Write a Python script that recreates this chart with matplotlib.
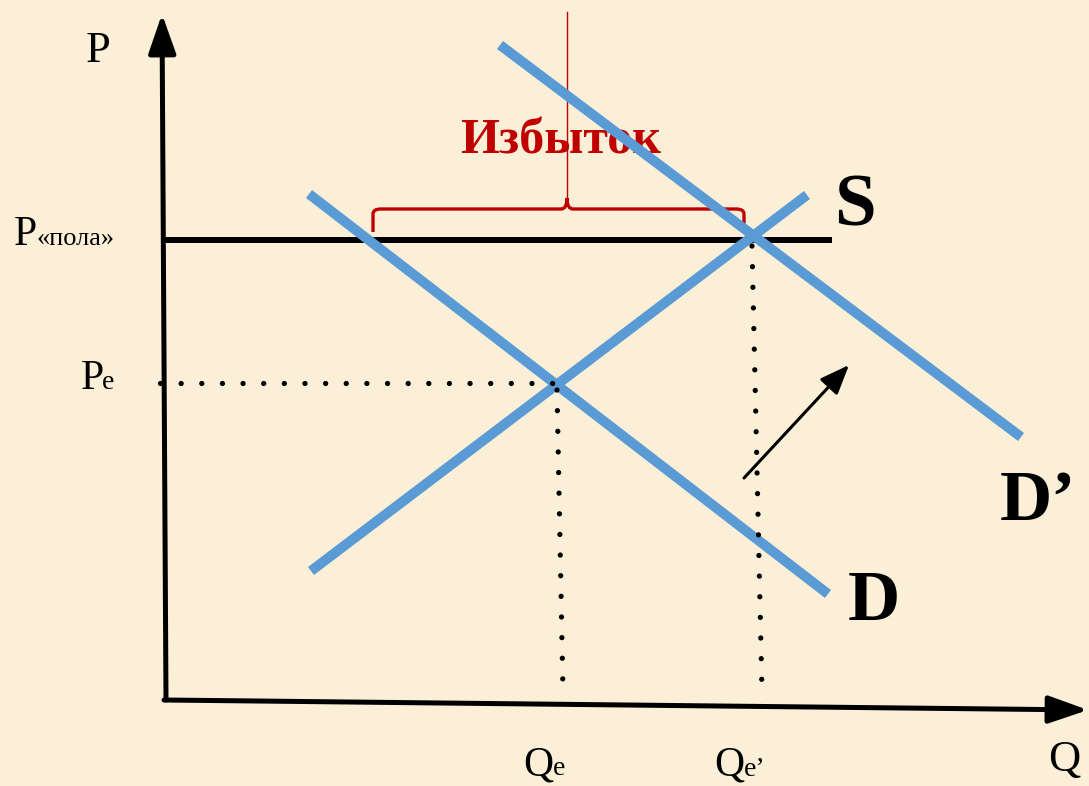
import matplotlib.pyplot as plt
from matplotlib.path import Path
from matplotlib.patches import PathPatch

# diagram coordinates (picture units, y grows downward)
supply_x = [311, 807]
supply_y = [571, 195]
demand_x = [309, 828]
demand_y = [194, 594]
demand2_x = [500, 1021]
demand2_y = [45, 437]
floor_x = [162, 832]
floor_y = [240, 240]
pe_x = [160, 556]
pe_y = [383, 383]
qe_x = [557, 563]
qe_y = [390, 693]
qe2_x = [752, 762]
qe2_y = [246, 693]
shift_tail = (744, 478)
shift_head = (849, 365)
bracket_left, bracket_mid, bracket_right = 373, 567, 744

bg = '#FBF0D7'
blue = '#5B9BD5'
red = '#C00000'
serif = ['Liberation Serif', 'DejaVu Serif']

fig = plt.figure(figsize=(10.89, 7.86), dpi=100)
fig.patch.set_facecolor(bg)
ax = fig.add_axes([0, 0, 1, 1])
ax.set_facecolor(bg)
ax.set_xlim(0, 1089)
ax.set_ylim(786, 0)
ax.axis('off')

# axes with arrows
ax.annotate('', xy=(162, 14), xytext=(166, 700),
            arrowprops=dict(arrowstyle='-|>,head_length=1.2,head_width=0.42',
                            lw=3.6, color='black', mutation_scale=20,
                            shrinkA=0, shrinkB=0))
ax.annotate('', xy=(1088, 710), xytext=(164, 700),
            arrowprops=dict(arrowstyle='-|>,head_length=1.2,head_width=0.42',
                            lw=3.6, color='black', mutation_scale=20,
                            shrinkA=0, shrinkB=0))

# price floor
ax.plot(floor_x, floor_y, color='black', lw=4.3, solid_capstyle='butt', zorder=2)

# dotted guides
dots = dict(color='black', lw=3.8, linestyle=(0, (0.01, 3.9)),
            dash_capstyle='round', zorder=4)
ax.plot(pe_x, pe_y, **dots)
ax.plot(qe_x, qe_y, **dots)
ax.plot(qe2_x, qe2_y, **dots)

# curves
for xs, ys in [(supply_x, supply_y), (demand_x, demand_y), (demand2_x, demand2_y)]:
    ax.plot(xs, ys, color=blue, lw=7.2, solid_capstyle='butt', zorder=3)

# shift arrow
ax.annotate('', xy=shift_head, xytext=shift_tail,
            arrowprops=dict(arrowstyle='-|>,head_length=1.0,head_width=0.4',
                            lw=2.2, color='black', mutation_scale=18,
                            shrinkA=0, shrinkB=0), zorder=5)

# surplus bracket
L, M, R = bracket_left, bracket_mid, bracket_right
verts = [(L, 232), (L, 214), (L, 209), (L + 8, 209),
         (M - 6, 209), (M, 209), (M, 198),
         (M, 209), (M + 6, 209),
         (R - 8, 209), (R, 209), (R, 214), (R, 229)]
codes = [Path.MOVETO, Path.LINETO, Path.CURVE3, Path.CURVE3,
         Path.LINETO, Path.CURVE3, Path.CURVE3,
         Path.CURVE3, Path.CURVE3,
         Path.LINETO, Path.CURVE3, Path.CURVE3, Path.LINETO]
ax.add_patch(PathPatch(Path(verts, codes), fill=False, edgecolor=red, lw=2.4,
                       zorder=2))
ax.plot([M, M], [12, 198], color=red, lw=1.0, zorder=2)

# labels
ax.text(86, 62, 'P', fontsize=32, family=serif, va='baseline')
ax.text(14, 245, 'P', fontsize=30, family=serif, va='baseline')
ax.text(37, 245, '«пола»', fontsize=19, family=serif, va='baseline')
ax.text(81, 389, 'P', fontsize=30, family=serif, va='baseline')
ax.text(102, 389, 'e', fontsize=20, family=serif, va='baseline')
ax.text(523, 775, 'Q', fontsize=30, family=serif, va='baseline')
ax.text(553, 775, 'e', fontsize=20, family=serif, va='baseline')
ax.text(714, 776, 'Q', fontsize=30, family=serif, va='baseline')
ax.text(744, 776, 'e’', fontsize=20, family=serif, va='baseline')
ax.text(1048, 771, 'Q', fontsize=32, family=serif, va='baseline')
ax.text(460, 153, 'Избыток', fontsize=36, family=serif, weight='bold',
        color=red, va='baseline', zorder=1)
ax.text(834, 225, 'S', fontsize=54, family=serif, weight='bold', va='baseline')
ax.text(1000, 520, 'D’', fontsize=52, family=serif, weight='bold', va='baseline')
ax.text(848, 620, 'D', fontsize=52, family=serif, weight='bold', va='baseline')

fig.savefig('out.png', dpi=100, facecolor=bg)
